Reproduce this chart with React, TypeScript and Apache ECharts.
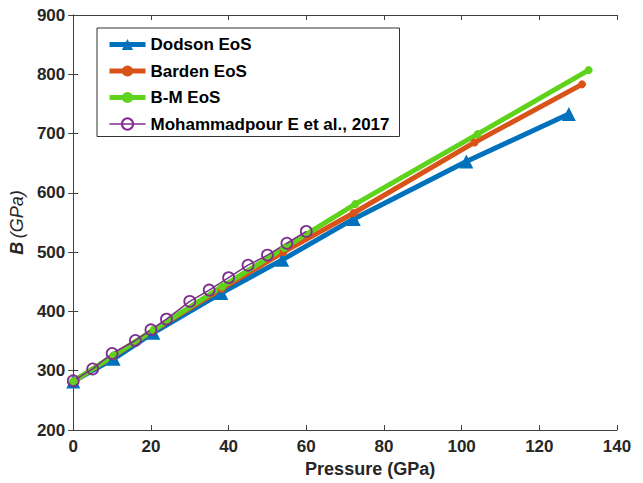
import React, { useEffect, useRef } from "react";
import * as echarts from "echarts";

// Dodson EoS
const dodsonP = [0, 10.4, 20.6, 38.1, 53.8, 72.2, 101.2, 127.6];
const dodsonB = [282, 320, 364, 431, 487, 556, 653, 733];
// Barden EoS
const bardenP = [0, 10.4, 20.7, 38.2, 54.1, 72.2, 103.3, 131];
const bardenB = [282, 325, 368, 438, 500, 566, 685, 783];
// B-M EoS
const bmP = [0, 10.4, 20.7, 38.3, 54.3, 72.6, 104.1, 132.7];
const bmB = [282, 326, 369, 442, 507, 581, 699, 807];
// Mohammadpour E et al., 2017
const mohP = [0, 5, 10, 16, 20, 24, 30, 35, 40, 45, 50, 55, 60];
const mohB = [283, 303, 329, 351, 369, 387, 417, 436, 457, 478, 495, 515, 535];

const seriesNames = ["Dodson EoS", "Barden EoS", "B-M EoS", "Mohammadpour E et al., 2017"];
const seriesColors = ["#0072BD", "#D95319", "#5FD31C", "#7E2F8E"];
const xTicks = { min: 0, max: 140, interval: 20 };
const yTicks = { min: 200, max: 900, interval: 100 };

const zip = (xs: number[], ys: number[]) => xs.map((x, i) => [x, ys[i]]);

const FONT = "Liberation Sans, Arial, Helvetica, sans-serif";
const AXIS_COLOR = "#404040";

export default function App() {
  const ref = useRef<HTMLDivElement>(null);
  useEffect(() => {
    if (!ref.current) return;
    const chart = echarts.init(ref.current, undefined, { renderer: "svg" });
    const axisCommon = {
      axisLine: { show: true, lineStyle: { color: AXIS_COLOR, width: 1 } },
      axisTick: { show: true, inside: true, length: 5, lineStyle: { color: AXIS_COLOR } },
      splitLine: { show: false },
    };
    chart.setOption({
      animation: false,
      backgroundColor: "#fff",
      grid: { left: 69, right: 26, top: 15, bottom: 49 },
      legend: {
        orient: "vertical",
        left: 97,
        top: 28,
        data: seriesNames.map((n, i) => ({
          name: n,
          lineStyle: { width: i === 3 ? 1.5 : 5, color: seriesColors[i] },
        })),
        backgroundColor: "#fff",
        borderColor: "#333",
        borderWidth: 1,
        padding: [8, 10, 4, 10],
        itemGap: 9.5,
        itemWidth: 36,
        itemHeight: 14,
        textStyle: { fontFamily: FONT, fontWeight: "bold", fontSize: 17, color: "#000" },
      },
      xAxis: [
        {
          type: "value",
          ...xTicks,
          ...axisCommon,
          name: "Pressure (GPa)",
          nameLocation: "middle",
          nameGap: 30,
          nameTextStyle: {
            fontFamily: FONT,
            fontWeight: "bold",
            fontSize: 18,
            color: "#262626",
            padding: [0, 0, 0, 50],
          },
          axisLabel: {
            fontFamily: FONT,
            fontWeight: "bold",
            fontSize: 17,
            color: "#262626",
            margin: 8,
          },
        },
        {
          type: "value",
          position: "top",
          ...xTicks,
          ...axisCommon,
          axisLabel: { show: false },
        },
      ],
      yAxis: [
        {
          type: "value",
          ...yTicks,
          ...axisCommon,
          name: "{b|B} {g|(GPa)}",
          nameLocation: "middle",
          nameGap: 44,
          nameRotate: 90,
          nameTextStyle: {
            color: "#262626",
            rich: {
              b: { fontFamily: FONT, fontStyle: "italic", fontWeight: "bold", fontSize: 18, color: "#262626" },
              g: { fontFamily: FONT, fontStyle: "italic", fontWeight: "normal", fontSize: 18, color: "#262626" },
            },
          },
          axisLabel: {
            fontFamily: FONT,
            fontWeight: "bold",
            fontSize: 17,
            color: "#262626",
            margin: 8,
          },
        },
        {
          type: "value",
          position: "right",
          ...yTicks,
          ...axisCommon,
          axisLabel: { show: false },
        },
      ],
      series: [
        {
          name: seriesNames[0],
          type: "line",
          data: zip(dodsonP, dodsonB),
          symbol: "triangle",
          symbolSize: 14,
          lineStyle: { color: seriesColors[0], width: 5 },
          itemStyle: { color: seriesColors[0] },
        },
        {
          name: seriesNames[1],
          type: "line",
          data: zip(bardenP, bardenB),
          symbol: "circle",
          symbolSize: 8,
          lineStyle: { color: seriesColors[1], width: 5 },
          itemStyle: { color: seriesColors[1] },
        },
        {
          name: seriesNames[2],
          type: "line",
          data: zip(bmP, bmB),
          symbol: "circle",
          symbolSize: 8,
          lineStyle: { color: seriesColors[2], width: 5 },
          itemStyle: { color: seriesColors[2] },
        },
        {
          name: seriesNames[3],
          type: "line",
          data: zip(mohP, mohB),
          symbol: "circle",
          symbolSize: 11,
          showAllSymbol: true,
          lineStyle: { color: seriesColors[3], width: 1.5 },
          itemStyle: { color: "transparent", borderColor: seriesColors[3], borderWidth: 1.8 },
        },
      ],
    });
    return () => chart.dispose();
  }, []);
  return (
    <div
      ref={ref}
      style={{ position: "fixed", left: 0, top: 0, width: 643, height: 483 }}
    />
  );
}
